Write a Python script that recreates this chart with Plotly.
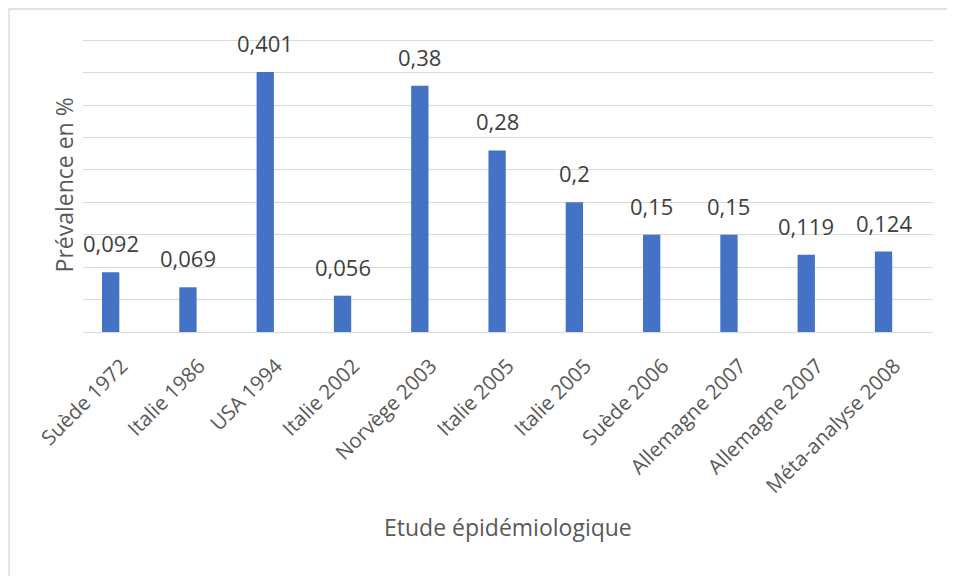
import plotly.graph_objects as go

categories = ["Suède 1972", "Italie 1986", "USA 1994", "Italie 2002", "Norvège 2003",
              "Italie 2005", "Italie 2005", "Suède 2006", "Allemagne 2007",
              "Allemagne 2007", "Méta-analyse 2008"]
values = [0.092, 0.069, 0.401, 0.056, 0.38, 0.28, 0.2, 0.15, 0.15, 0.119, 0.124]
value_labels = [str(v).replace(".", ",") for v in values]
y_tick_values = [0.05 * i for i in range(10)]

FONT = "Open Sans"
GRAY = "#595959"
positions = list(range(len(categories)))

fig = go.Figure()
fig.add_trace(go.Bar(
    x=positions, y=values, width=0.224,
    marker=dict(color="#4472C4", line=dict(width=0)),
    hoverinfo="skip",
))

annotations = []
for p, v, t in zip(positions, values, value_labels):
    annotations.append(dict(x=p, y=v, xref="x", yref="y", text=t, showarrow=False,
                            yanchor="bottom", yshift=12,
                            font=dict(family=FONT, size=22, color="#404040")))
annotations.append(dict(x=0.5, y=-0.661, xref="paper", yref="paper",
                        text="Etude épidémiologique", showarrow=False,
                        xanchor="center", yanchor="middle",
                        font=dict(family=FONT, size=23, color=GRAY)))
annotations.append(dict(x=-0.0224, y=0.5, xref="paper", yref="paper",
                        text="Prévalence en %", showarrow=False, textangle=-90,
                        xanchor="center", yanchor="middle",
                        font=dict(family=FONT, size=23, color=GRAY)))

fig.update_layout(
    width=947, height=568,
    margin=dict(l=75, r=22, t=29, b=244, autoexpand=False),
    paper_bgcolor="white", plot_bgcolor="white",
    showlegend=False,
    annotations=annotations,
    shapes=[dict(type="rect", xref="paper", yref="paper",
                 x0=-0.087, x1=1.05, y0=-0.9, y1=1.095,
                 line=dict(color="#d9d9d9", width=1.3), layer="below")],
    xaxis=dict(range=[-0.358, 10.64], tickvals=positions, ticktext=categories,
               tickangle=-45, showgrid=False, zeroline=False,
               showline=False, ticks="", ticklabelstandoff=17, ticklabelshift=11,
               tickfont=dict(family=FONT, size=20.5, color=GRAY)),
    yaxis=dict(range=[0, 0.455], tickvals=y_tick_values, showticklabels=False,
               showgrid=True, gridcolor="#d9d9d9", gridwidth=1.3,
               zeroline=True, zerolinecolor="#d9d9d9", zerolinewidth=1.3,
               showline=False, ticks=""),
)

fig.write_html("out.html")
